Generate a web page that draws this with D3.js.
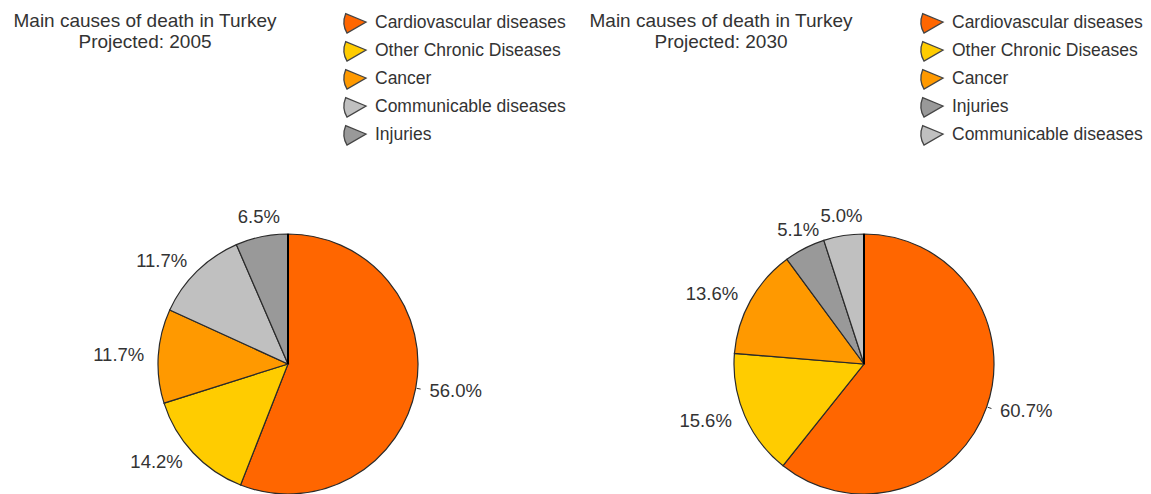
<!DOCTYPE html>
<html>
<head>
  <meta charset="utf-8">
  <script src="https://d3js.org/d3.v7.min.js"></script>
  <style>
    body { margin: 0; background: #fff; }
    svg { display: block; font-family: "Liberation Sans", Arial, sans-serif; }
    .title { font-size: 19px; fill: #333; text-anchor: middle; }
    .legend text { font-size: 17.5px; fill: #333; }
    .label { font-size: 18.5px; fill: #333; }
    .slice { stroke: #2a2a2a; stroke-width: 1.2px; }
  </style>
</head>
<body>
<svg id="chart" width="1151" height="494"></svg>
<script>

  // 2005 projection, clockwise from 12 o'clock
  var causes2005 = ["Cardiovascular diseases", "Other Chronic Diseases", "Cancer", "Communicable diseases", "Injuries"];
  var values2005 = [56.0, 14.2, 11.7, 11.7, 6.5];

  // 2030 projection
  var causes2030 = ["Cardiovascular diseases", "Other Chronic Diseases", "Cancer", "Injuries", "Communicable diseases"];
  var values2030 = [60.7, 15.6, 13.6, 5.1, 5.0];

  var titleYears = ["2005", "2030"];

  var color = d3.scaleOrdinal()
      .domain(["Cardiovascular diseases", "Other Chronic Diseases", "Cancer", "Communicable diseases", "Injuries"])
      .range(["#ff6600", "#ffcc00", "#ff9900", "#c0c0c0", "#999999"]);

  var svg = d3.select("#chart");

  var panels = [
    {causes: causes2005, values: values2005, year: titleYears[0], cx: 288, titleX: 145, legendX: 345},
    {causes: causes2030, values: values2030, year: titleYears[1], cx: 864, titleX: 721, legendX: 922}
  ];

  var radius = 130, cy = 364, labelR = 144;

  var pie = d3.pie().sort(null).value(function(d) { return d.value; });
  var arc = d3.arc().innerRadius(0).outerRadius(radius);

  // little pie-wedge used as legend marker, apex on the right
  var marker = d3.arc().innerRadius(0).outerRadius(22)
      .startAngle(3 * Math.PI / 2 - 0.46)
      .endAngle(3 * Math.PI / 2 + 0.46);

  panels.forEach(function(p) {
    var data = p.causes.map(function(c, i) { return {cause: c, value: p.values[i]}; });

    var title = svg.append("text").attr("class", "title");
    title.append("tspan").attr("x", p.titleX).attr("y", 27).text("Main causes of death in Turkey");
    title.append("tspan").attr("x", p.titleX).attr("y", 48).text("Projected: " + p.year);

    var legend = svg.append("g").attr("class", "legend")
      .selectAll("g")
      .data(data)
      .enter().append("g")
        .attr("transform", function(d, i) { return "translate(" + p.legendX + "," + (22 + i * 28) + ")"; });

    legend.append("path")
        .attr("d", marker)
        .attr("transform", "translate(21,0) rotate(-4)")
        .attr("fill", function(d) { return color(d.cause); })
        .attr("stroke", "#444")
        .attr("stroke-width", 1.3);

    legend.append("text")
        .attr("x", 30)
        .attr("y", 6)
        .text(function(d) { return d.cause; });

    var g = svg.append("g").attr("transform", "translate(" + p.cx + "," + cy + ")");
    var arcs = pie(data);

    g.selectAll("path.slice")
      .data(arcs)
      .enter().append("path")
        .attr("class", "slice")
        .attr("d", arc)
        .attr("fill", function(d) { return color(d.data.cause); });

    g.append("line")
        .attr("x1", 0).attr("y1", 0).attr("x2", 0).attr("y2", -radius)
        .attr("stroke", "#000").attr("stroke-width", 2);

    function mid(d) { return (d.startAngle + d.endAngle) / 2; }

    // leader ticks only show for the labels on the right side
    g.selectAll("line.tick")
      .data(arcs.filter(function(d) { return Math.sin(mid(d)) > 0.5; }))
      .enter().append("line")
        .attr("class", "tick")
        .attr("stroke", "#333")
        .attr("x1", function(d) { return Math.sin(mid(d)) * (radius + 1); })
        .attr("y1", function(d) { return -Math.cos(mid(d)) * (radius + 1); })
        .attr("x2", function(d) { return Math.sin(mid(d)) * (radius + 5); })
        .attr("y2", function(d) { return -Math.cos(mid(d)) * (radius + 5); });

    g.selectAll("text.label")
      .data(arcs)
      .enter().append("text")
        .attr("class", "label")
        .text(function(d) { return d3.format(".1f")(d.data.value) + "%"; })
        .each(function(d) {
          var a = mid(d);
          var dx = Math.sin(a), dy = -Math.cos(a);
          var px = dx * labelR, py = dy * labelR;
          var t = d3.select(this);
          if (Math.abs(dy) > Math.abs(dx) + 0.15) {
            t.attr("text-anchor", "middle").attr("x", px)
             .attr("y", dy < 0 ? py : py + 14);
          } else {
            t.attr("text-anchor", dx < 0 ? "end" : "start").attr("x", px).attr("y", py + 6);
          }
        });
  });

</script>
</body>
</html>
